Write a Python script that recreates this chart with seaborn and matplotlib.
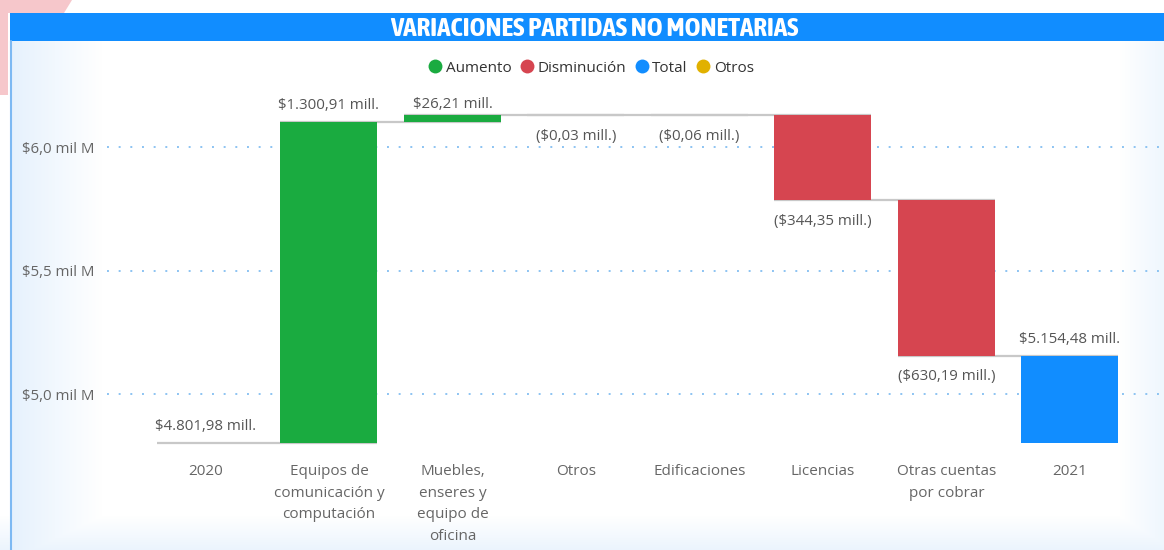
import numpy as np
import matplotlib
matplotlib.use("Agg")
import matplotlib.pyplot as plt
import matplotlib.font_manager as fm
import matplotlib.patheffects as pe
import seaborn as sns
from matplotlib.lines import Line2D
from matplotlib.patches import Rectangle, Polygon

# ---------------- data ----------------
categories = ["2020", "Equipos de\ncomunicación y\ncomputación",
              "Muebles,\nenseres y\nequipo de\noficina", "Otros",
              "Edificaciones", "Licencias", "Otras cuentas\npor cobrar", "2021"]
values = [4801.98, 1300.91, 26.21, -0.03, -0.06, -344.35, -630.19, 5154.48]
kinds = ["Total", "Aumento", "Aumento", "Disminución", "Disminución",
         "Disminución", "Disminución", "Total"]
legend_labels = ["Aumento", "Disminución", "Total", "Otros"]
yticks = [5000, 5500, 6000]
ytick_labels = ["$5,0 mil M", "$5,5 mil M", "$6,0 mil M"]
title = "VARIACIONES PARTIDAS NO MONETARIAS"

colors = {"Aumento": "#1AAB40", "Disminución": "#D64550",
          "Total": "#118DFF", "Otros": "#E1B100"}

# waterfall geometry
bottoms, heights, ends = [], [], []
running = 0.0
for v, k in zip(values, kinds):
    if k == "Total":
        bottoms.append(0.0); heights.append(v); running = v
    else:
        bottoms.append(running); heights.append(v); running += v
    ends.append(running)

def fmt(v):
    s = f"{abs(v):,.2f}".replace(",", "X").replace(".", ",").replace("X", ".")
    return f"(${s} mill.)" if v < 0 else f"${s} mill."

# pick a condensed font for the title if one is installed
def _w(f):
    w = f.weight
    if isinstance(w, str):
        return 700 if "bold" in w.lower() else 400
    return int(w)
cond = [f for f in fm.fontManager.ttflist
        if ("Condensed" in f.name or "Narrow" in f.name) and f.style == "normal"]
cond_bold = [f for f in cond if _w(f) >= 600]
title_effects = []
if cond_bold:
    title_family = [cond_bold[0].name]; title_size = 19.5
elif cond:
    title_family = [cond[0].name]; title_size = 17.5
    title_effects = [pe.withStroke(linewidth=1.3, foreground="white")]
else:
    title_family = ["Lato", "DejaVu Sans"]; title_size = 15

# ---------------- figure ----------------
sns.set_theme(style="white")
plt.rcParams["font.family"] = ["Open Sans", "DejaVu Sans"]
W, H = 1164, 550
fig = plt.figure(figsize=(W / 100, H / 100), dpi=100)
fig.patch.set_facecolor("white")

# background decoration
bg = fig.add_axes([0, 0, 1, 1], zorder=-10)
bg.set_xlim(0, W); bg.set_ylim(H, 0); bg.axis("off")
img = np.ones((H, W, 3))
tint = np.array([0.87, 0.93, 0.99])
xs = np.arange(W); ys = np.arange(H)
a_left = np.clip(1 - (xs - 12) / 90.0, 0, 1) * (xs >= 12) * 0.75
a_right = np.clip(1 - (W - xs) / 45.0, 0, 1) * 0.5
a_bot = np.clip(1 - (H - ys) / 35.0, 0, 1) * 0.6
A = np.maximum(np.maximum(a_left[None, :], a_right[None, :]), a_bot[:, None])
A[:41, :] = 0
img = img * (1 - A[..., None]) + tint * A[..., None]
bg.imshow(img, extent=(0, W, H, 0), aspect="auto", zorder=0)
bg.add_patch(Polygon([(0, 0), (72, 0), (64, 13), (8, 13), (8, 95), (0, 95)],
                     closed=True, color="#F6C7CB", zorder=1, lw=0))
bg.add_patch(Rectangle((10, 13), W - 10, 28, color="#118DFF", zorder=2, lw=0))
bg.plot([10.5, 10.5], [41, H], color="#7DB9F3", lw=1.5, zorder=2)
bg.text(594, 28, title, color="white", fontsize=title_size, fontweight="bold",
        ha="center", va="center", zorder=3, family=title_family,
        path_effects=title_effects)

# main axes
x0, x1, yb, yt = 107, 1160, 443, 95
ax = fig.add_axes([x0 / W, 1 - yb / H, (x1 - x0) / W, (yb - yt) / H])
ax.set_facecolor("none")
bw = 97 / 123.5
sns.barplot(x=categories, y=heights, bottom=bottoms, width=bw,
            color="#118DFF", saturation=1, ax=ax, zorder=3,
            edgecolor="none", linewidth=0)
for p, k in zip(ax.patches, kinds):
    p.set_facecolor(colors[k])

# connectors
for i in range(len(values) - 1):
    ax.plot([i - bw / 2, i + 1 + bw / 2], [ends[i], ends[i]], color="#C8C8C8",
            lw=1.6, zorder=2, clip_on=False, solid_capstyle="butt")

ymin, ymax = 4801.98, 6211
ax.set_xlim(-0.7976, 7.729)
ax.set_ylim(ymin, ymax)
ax.set_yticks(yticks)
ax.set_yticklabels(ytick_labels)
ax.grid(axis="y", color="#8CC3F2", linestyle=(0, (1, 5)), lw=1.4, zorder=0)
ax.grid(axis="x", visible=False)
for s in ax.spines.values():
    s.set_visible(False)
ax.tick_params(axis="y", length=0, pad=9, labelsize=10.8, labelcolor="#666666")
ax.tick_params(axis="x", length=0, pad=15, labelsize=11, labelcolor="#666666")
for lab in ax.get_xticklabels():
    lab.set_linespacing(1.62)
    lab.set_va("top")
ax.set_xlabel(""); ax.set_ylabel("")

# data labels (kept inside the plot area at the top)
px_per_unit = (yb - yt) / (ymax - ymin)
top_limit = ymax - 10 / px_per_unit
for i, (v, k) in enumerate(zip(values, kinds)):
    if k == "Total" or v > 0:
        ylab = min(ends[i] + 16.5 / px_per_unit, top_limit)
    else:
        ylab = ends[i] - 21 / px_per_unit
    ax.text(i, ylab, fmt(v), ha="center", va="center", fontsize=10.8,
            color="#555555", clip_on=False)

# legend
handles = [Line2D([], [], marker="o", linestyle="none", markersize=10,
                  markerfacecolor=colors[l], markeredgecolor="none") for l in legend_labels]
fig.legend(handles, legend_labels, loc="center", bbox_to_anchor=(591 / W, 1 - 68 / H),
           ncol=4, frameon=False, handlelength=0.9, handletextpad=0.25,
           columnspacing=0.55, fontsize=11, labelcolor="#333333", borderaxespad=0)

fig.savefig("out.png", dpi=100)
